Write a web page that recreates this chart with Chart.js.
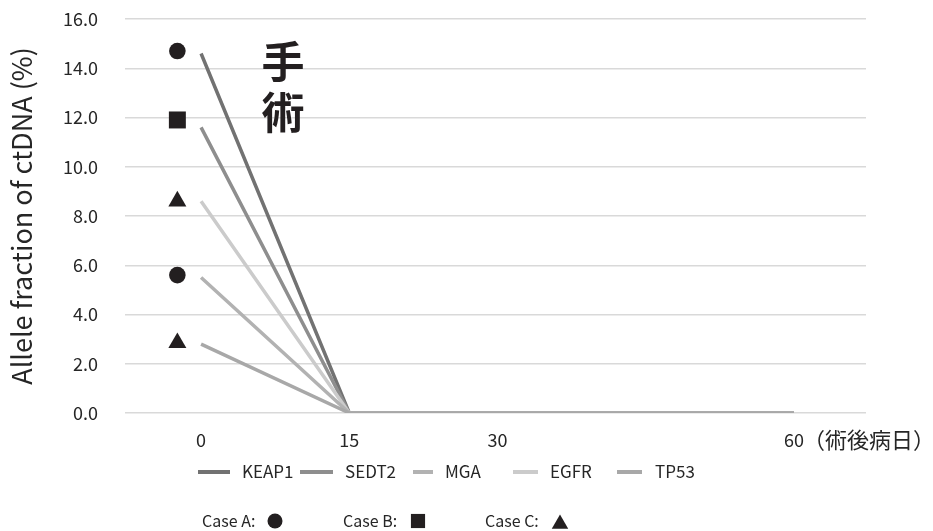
<!DOCTYPE html>
<html>
<head>
<meta charset="utf-8">
<script src="https://cdn.jsdelivr.net/npm/chart.js@4.4.1/dist/chart.umd.min.js"></script>
<style>
  html, body { margin: 0; padding: 0; background: #fff; }
  #wrap { width: 933px; height: 531px; }
</style>
</head>
<body>
<div id="wrap"><canvas id="grafico" width="933" height="531"></canvas></div>
<script>
// dados
const dias = [0, 15, 30, 60];
const yTicks = [0, 2, 4, 6, 8, 10, 12, 14, 16];
const genes = ['KEAP1', 'SEDT2', 'MGA', 'EGFR', 'TP53'];
const keap1 = [14.6, 0, 0, 0];
const sedt2 = [11.6, 0, 0, 0];
const mga = [5.5, 0, 0, 0];
const egfr = [8.6, 0, 0, 0];
const tp53 = [2.8, 0, 0, 0];
const coresGenes = ['#727272', '#8e8e8e', '#b2b2b2', '#cbcbcb', '#a8a8a8'];
const ordemGenes = [5, 4, 2, 3, 1];

// marcadores dos casos (antes da cirurgia)
const diaMarcador = -2.4;
const casos = ['Case A:', 'Case B:', 'Case C:'];
const caseA = [14.7, 5.6];
const caseB = [11.9];
const caseC = [8.6, 2.85];
const estilosCasos = ['circle', 'rect', 'triangle'];
const raiosCasos = [8.3, 12, 10.4];

const FONTE = "'Noto Sans CJK JP', 'Noto Sans', sans-serif";
const TEXTO = '#262626';
const PRETO = '#231f20';

const seriesGenes = [keap1, sedt2, mga, egfr, tp53];

const datasetsGenes = genes.map((g, i) => ({
    label: g,
    data: dias.map((d, j) => ({ x: d, y: seriesGenes[i][j] })),
    borderColor: coresGenes[i],
    borderWidth: 3.5,
    pointRadius: 0,
    tension: 0,
    fill: false,
    order: ordemGenes[i]
}));

const datasetsCasos = [caseA, caseB, caseC].map((valores, i) => ({
    label: casos[i],
    data: valores.map(v => ({ x: diaMarcador, y: v })),
    showLine: false,
    pointStyle: estilosCasos[i],
    pointRadius: raiosCasos[i],
    pointBackgroundColor: PRETO,
    pointBorderWidth: 0,
    order: 0
}));

// textos extras: 手術, sufixo do eixo x e as duas legendas
const anotacoes = {
    id: 'anotacoes',
    afterDraw(chart) {
        const ctx = chart.ctx;
        const x = chart.scales.x;
        const y = chart.scales.y;
        ctx.save();

        ctx.fillStyle = PRETO;
        ctx.textAlign = 'center';
        ctx.textBaseline = 'middle';
        ctx.font = 'bold 43px ' + FONTE;
        ctx.fillText('手', x.getPixelForValue(8.3), y.getPixelForValue(14.25));
        ctx.fillText('術', x.getPixelForValue(8.3), y.getPixelForValue(12.2));

        ctx.fillStyle = TEXTO;
        ctx.textAlign = 'left';
        ctx.font = '22px ' + FONTE;
        ctx.fillText('（術後病日）', x.getPixelForValue(60) + 9, 440);

        // legenda das linhas
        const posLegenda = [[198, 230, 242], [300, 333, 345], [413, 433, 445], [513, 538, 550], [617, 642, 655]];
        ctx.font = '17px ' + FONTE;
        ctx.lineWidth = 4;
        genes.forEach((g, i) => {
            const p = posLegenda[i];
            ctx.strokeStyle = coresGenes[i];
            ctx.beginPath();
            ctx.moveTo(p[0], 472);
            ctx.lineTo(p[1], 472);
            ctx.stroke();
            ctx.fillStyle = TEXTO;
            ctx.fillText(g, p[2], 472);
        });

        // legenda dos casos
        const posCasos = [[202, 275], [343, 418], [485, 560]];
        const raiosLegenda = [7.5, 10, 9.5];
        ctx.font = '16px ' + FONTE;
        casos.forEach((c, i) => {
            const p = posCasos[i];
            ctx.fillStyle = TEXTO;
            ctx.fillText(c, p[0], 521);
            ctx.fillStyle = PRETO;
            Chart.helpers.drawPoint(ctx, {
                pointStyle: estilosCasos[i],
                radius: raiosLegenda[i],
                rotation: 0,
                borderWidth: 0
            }, p[1], estilosCasos[i] === 'triangle' ? 524 : 521);
        });

        ctx.restore();
    }
};

new Chart(document.getElementById('grafico'), {
    type: 'line',
    data: { datasets: datasetsGenes.concat(datasetsCasos) },
    options: {
        responsive: false,
        animation: false,
        devicePixelRatio: 1,
        layout: { padding: { left: 0, right: 67, top: 19, bottom: 78 } },
        plugins: {
            legend: { display: false },
            tooltip: { enabled: false }
        },
        scales: {
            x: {
                type: 'linear',
                min: -7.7,
                max: 67.3,
                afterBuildTicks: s => { s.ticks = dias.map(v => ({ value: v })); },
                afterFit: s => { s.height = 40; s.paddingLeft = 0; s.paddingRight = 0; },
                ticks: {
                    color: TEXTO,
                    font: { family: FONTE, size: 18 },
                    padding: 16,
                    maxRotation: 0,
                    callback: v => String(v)
                },
                grid: { display: false, drawTicks: false },
                border: { display: false }
            },
            y: {
                min: 0,
                max: 16,
                afterBuildTicks: s => { s.ticks = yTicks.map(v => ({ value: v })); },
                afterFit: s => { s.width = 125; s.paddingTop = 0; s.paddingBottom = 0; },
                ticks: {
                    color: TEXTO,
                    font: { family: FONTE, size: 18 },
                    padding: 27,
                    callback: v => v.toFixed(1)
                },
                grid: { color: '#d9d9d9', lineWidth: 1.5, drawTicks: false },
                border: { display: false },
                title: {
                    display: true,
                    text: 'Allele fraction of ctDNA (%)',
                    color: TEXTO,
                    font: { family: FONTE, size: 27 },
                    padding: { top: 6, bottom: 0 }
                }
            }
        }
    },
    plugins: [anotacoes]
});
</script>
</body>
</html>
